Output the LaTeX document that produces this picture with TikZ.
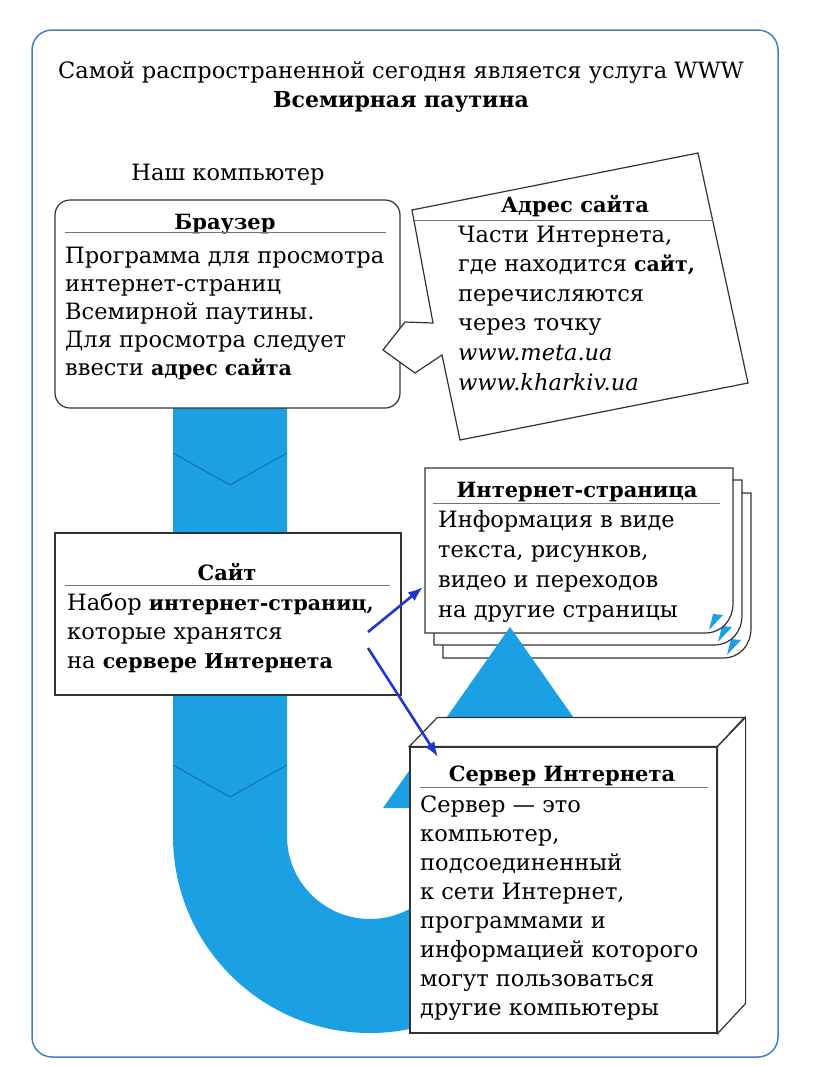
\documentclass[tikz,border=0pt]{standalone}
\usepackage{fontspec}
\setmainfont{DejaVu Serif}
\usetikzlibrary{arrows.meta}

\definecolor{bandblue}{RGB}{28,160,228}
\definecolor{chevblue}{RGB}{20,100,190}
\definecolor{linkblue}{RGB}{30,55,205}
\definecolor{frameblue}{RGB}{70,125,200}
\newcommand\bword[1]{{\fontsize{20.5}{29.3}\selectfont\bfseries #1}}

\begin{document}
\begin{tikzpicture}[
            x=1pt, y=-1pt,
            txt/.style={font=\fontsize{22.5}{29.3}\selectfont, inner sep=0pt},
            body/.style={inner sep=0pt, font=\fontsize{22.5}{#1}\selectfont, align=left, anchor=base west},
            body/.default=29.3,
            head/.style={inner sep=0pt, font=\fontsize{21}{29.3}\selectfont\bfseries, anchor=base},
            box/.style={draw=black!80, line width=1.2pt, fill=white, inner sep=0pt},
            rule/.style={draw=black!55, line width=0.9pt},
            band/.style={fill=bandblue},
            chevron/.style={draw=chevblue, line width=0.8pt},
            link/.style={draw=linkblue, line width=2.6pt, -{Latex[length=15pt,width=11pt]}},
            ]
            \useasboundingbox (0,0) rectangle (816,1066);
            \draw[frameblue, line width=1.5pt, rounded corners=20pt] (32,30) rectangle (778,1057);
            
            \node[txt, anchor=base] (title) at (401,78) {Самой распространенной сегодня является услуга WWW};
            \node[head, font=\fontsize{22}{29.3}\selectfont\bfseries] (www) at (401,107) {Всемирная паутина};
            \node[txt, anchor=base] (ours) at (228,180) {Наш компьютер};
            
            % stack of pages
            \foreach \dx/\dy in {18/25, 9/12, 0/0} {
                \begin{scope}[shift={(\dx,\dy)}]
                    \filldraw[box] (425,468) -- (733,468) -- (733,603) .. controls (733,620) and (722,633) .. (705,633) -- (425,633) -- cycle;
                    \fill[bandblue] (709,630) -- (723,615) -- (713,614) -- cycle;
                \end{scope}
            }
            \node[minimum width=308pt, minimum height=165pt, inner sep=0pt] (page) at (579,550.5) {};
            
            % blue band
            \fill[band] (173,400) -- (173,836) .. controls (173,944.8) and (261.2,1033) .. (370,1033)
                .. controls (478.8,1033) and (567,944.8) .. (567,836) -- (567,808) -- (637,808) -- (510,627)
                -- (383,808) -- (453,808) -- (453,836) .. controls (453,881.8) and (415.8,919) .. (370,919)
                .. controls (324.2,919) and (287,881.8) .. (287,836) -- (287,400) -- cycle;
            \foreach \y in {453,765}
                \draw[chevron] (173,\y) -- (230,\y+32) -- (287,\y);
            
            \node[head] (pagehead) at (577,497) {Интернет-страница};
            \draw[rule] (433,503) -- (720,503);
            \node[body=30] (pagetext) at (438,617) {Информация в виде\\текста, рисунков,\\видео и переходов\\на другие страницы};
            
            % site
            \node[box, minimum width=346pt, minimum height=162pt] (site) at (228,614) {};
            \node[head] (sitehead) at (227,580) {Сайт};
            \draw[rule] (65,585) -- (390,585);
            \node[body=29] (sitetext) at (67,668) {Набор \bword{интернет-страниц,}\\которые хранятся\\на \bword{сервере Интернета}};
            
            % browser
            \node[box, rounded corners=15pt, minimum width=345pt, minimum height=208pt] (browser) at (227.5,304) {};
            \node[head] (browserhead) at (225,229) {Браузер};
            \draw[rule] (65,232) -- (386,232);
            \node[body=28] (browsertext) at (65,375) {Программа для просмотра\\интернет-страниц\\Всемирной паутины.\\Для просмотра следует\\ввести \bword{адрес сайта}};
            
            % address
            \filldraw[box] (412,210) -- (698,153) -- (748,383) -- (460,440) -- (442,355) -- (415,373)
                -- (383,350) -- (405,322) -- (433,323) -- cycle;
            \draw[rule] (414,220) -- (713,220);
            \node[head] (addrhead) at (575,212) {Адрес сайта};
            \node[body=29.6] (addrtext) at (458,390) {Части Интернета,\\где находится \bword{сайт,}\\перечисляются\\через точку\\\textit{www.meta.ua}\\\textit{www.kharkiv.ua}};
            
            % server
            \node[box, minimum width=307pt, minimum height=286pt] (server) at (563.5,890) {};
            \filldraw[box] (server.north west) -- ++(28,-29) -- ++(307,0) -- (server.north east) -- cycle;
            \filldraw[box] (server.north east) -- ++(28,-29) -- ++(0,286) -- (server.south east) -- cycle;
            \node[head] (serverhead) at (562,781) {Сервер Интернета};
            \draw[rule] (420,787) -- (708,787);
            \node[body=29] (servertext) at (420,1015) {Сервер — это\\компьютер,\\подсоединенный\\к сети Интернет,\\программами и\\информацией которого\\могут пользоваться\\другие компьютеры};
            
            % links
            \coordinate (siteout1) at (368,632);
            \coordinate (pagein) at (423,587);
            \coordinate (siteout2) at (368,648);
            \coordinate (serverin) at (438,757);
            \draw[link] (siteout1) -- (pagein);
            \draw[link] (siteout2) -- (serverin);
        \end{tikzpicture}
\end{document}
